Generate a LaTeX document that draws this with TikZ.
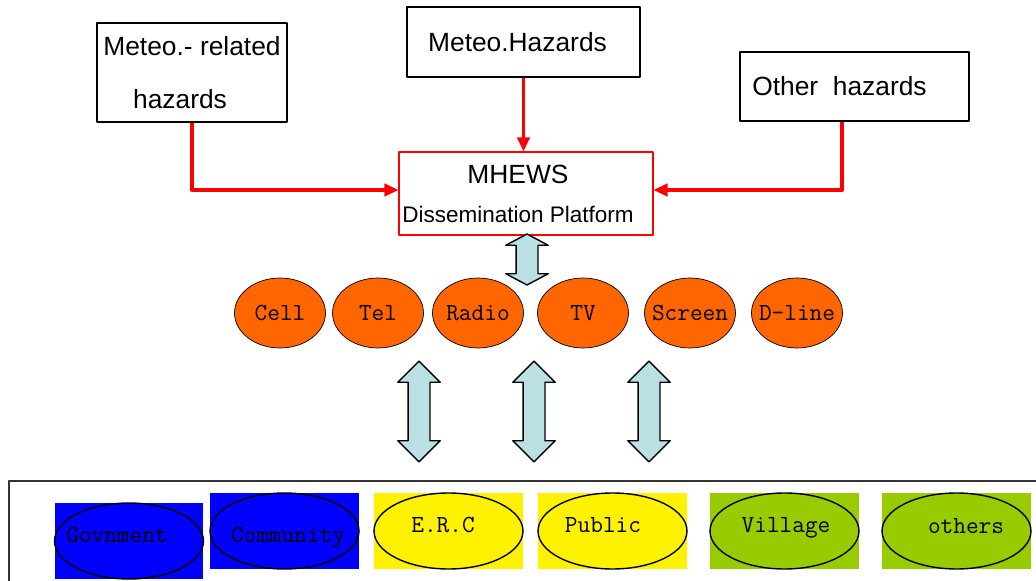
\documentclass[tikz,border=0pt]{standalone}
\usepackage{fontspec}
\setmainfont{Liberation Sans}
\usetikzlibrary{shapes.geometric,shapes.arrows,arrows.meta}
\definecolor{mediaorange}{RGB}{255,102,0}
\definecolor{usergreen}{RGB}{153,204,0}
\definecolor{flowblue}{RGB}{187,224,227}
\tikzset{
  hazbox/.style={draw, line width=0.8pt, inner sep=0pt, align=center, font=\fontsize{15}{18}\selectfont},
  haz/.style={red, line width=2.2pt, -{Triangle[length=8pt,width=7pt]}},
  media/.style={ellipse, draw, fill=mediaorange, line width=0.4pt, minimum width=1.82cm, minimum height=1.4cm, inner sep=0pt, font=\ttfamily\fontsize{14}{16}\selectfont},
  flow/.style={double arrow, draw, fill=flowblue, line width=0.8pt, rotate=90, inner xsep=0pt, inner ysep=0.205cm, minimum width=0.82cm, double arrow head extend=0.205cm},
  userbg/.style={minimum width=2.98cm, minimum height=1.52cm, inner sep=0pt},
  user/.style={ellipse, draw, line width=0.8pt, minimum width=2.98cm, minimum height=1.52cm, inner sep=0pt},
  usertext/.style={anchor=base, inner sep=0pt, font=\ttfamily\fontsize{14}{16}\selectfont}
}
\begin{document}
\begin{tikzpicture}[x=0.02cm, y=-0.02cm, line join=round]
\useasboundingbox[fill=white] (0,0) rectangle (1036,581);

% hazard sources
\node[hazbox, minimum width=3.8cm, minimum height=1.98cm] (relhaz) at (192,72.5) {Meteo.- related\\[12pt]hazards\hspace*{0.48cm}};
\node[hazbox, minimum width=4.66cm, minimum height=1.4cm] (methaz) at (523.5,42) {Meteo.Hazards\hspace*{0.24cm}};
\node[hazbox, minimum width=4.58cm, minimum height=1.38cm] (othhaz) at (854.5,86.5) {Other~~hazards\hspace*{0.6cm}};

% platform
\node[draw=red, line width=0.6pt, inner sep=0pt, align=center, minimum width=5.08cm, minimum height=1.66cm, font=\fontsize{12.8}{14}\selectfont] (mhews) at (526,193.5)
  {{\fontsize{15}{17}\selectfont MHEWS}\hspace*{0.32cm}\\[8.2pt]Dissemination Platform\hspace*{0.32cm}};

\draw[haz] (relhaz.south) |- ([yshift=0.07cm]mhews.west);
\draw[haz, line width=1.8pt] (methaz.south) -- (methaz.south |- mhews.north);
\draw[haz] ([xshift=-0.25cm]othhaz.south) |- ([yshift=0.07cm]mhews.east);

% media
\foreach \n/\x/\t in {cell/280/Cell, tel/378/Tel, radio/478/Radio, tv/583/TV, scr/690/Screen, dline/797/D-line}
  \node[media] (\n) at (\x,313) {\makebox[0pt]{\t}};

\node[flow, minimum height=1.02cm, double arrow tip angle=124] (fl0) at (527,259.5) {};
\foreach \n/\x in {fl1/419, fl2/534, fl3/649}
  \node[flow, minimum height=2.02cm, double arrow tip angle=90] (\n) at (\x,411.5) {};

% users
\draw[line width=0.8pt, black!80] (9,481) rectangle (1050,600);
\foreach \n/\x/\y/\c/\t/\tx/\ty in {gov/129/541/blue/Govnment/117/542, com/284.5/531/blue/Community/288/542,
    erc/448.5/531/yellow/E.R.C/443/532, pub/612.5/531/yellow/Public/603/532,
    vil/784.5/531/usergreen/Village/786/532, oth/956.5/531/usergreen/others/966/533}{
  \node[userbg, fill=\c] (\n-bg) at (\x,\y) {};
  \node[user] (\n) at (\x,\y) {};
  \node[usertext] (\n-t) at (\tx,\ty) {\t};
}
\end{tikzpicture}
\end{document}
